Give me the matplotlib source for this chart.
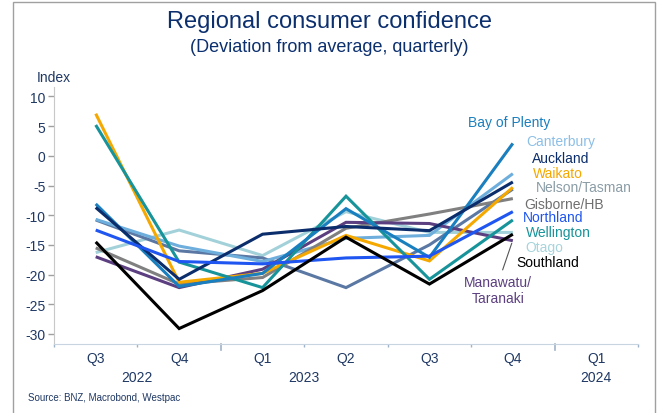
import matplotlib
matplotlib.use("Agg")
import matplotlib.pyplot as plt
from matplotlib.patches import Rectangle
from matplotlib.transforms import blended_transform_factory

plt.rcParams['font.family'] = ['Liberation Sans', 'DejaVu Sans']
plt.rcParams['axes.unicode_minus'] = False

quarters = ["Q3", "Q4", "Q1", "Q2", "Q3", "Q4", "Q1"]
years = ["2022", "2023", "2024"]
year_pos = [0.5, 2.5, 6.0]

auckland = [-8.7, -20.8, -13.2, -11.9, -12.6, -4.4]
bay_of_plenty = [-8.1, -22.0, -19.8, -8.9, -17.1, 2.1]
canterbury = [-10.7, -15.2, -17.8, -13.9, -13.4, -3.0]
waikato = [7.1, -21.3, -19.8, -13.4, -17.7, -5.3]
nelson_tasman = [-10.8, -16.0, -17.2, -22.2, -15.0, -5.6]
gisborne_hb = [-15.5, -21.6, -20.5, -12.2, -9.8, -7.2]
northland = [-12.5, -17.8, -18.2, -17.2, -16.9, -9.4]
wellington = [5.2, -17.9, -22.2, -6.8, -20.8, -10.8]
otago = [-16.3, -12.5, -16.8, -9.4, -12.9, -12.9]
southland = [-14.5, -29.1, -22.7, -13.7, -21.6, -13.2]
manawatu_taranaki = [-17.0, -22.2, -19.1, -11.2, -11.4, -14.3]

series = [
    ("Otago", otago, '#a3d1da'),
    ("Nelson/Tasman", nelson_tasman, '#5a78a3'),
    ("Canterbury", canterbury, '#6eaedc'),
    ("Gisborne/HB", gisborne_hb, '#808080'),
    ("Manawatu/\nTaranaki", manawatu_taranaki, '#5b3f80'),
    ("Waikato", waikato, '#f5a800'),
    ("Wellington", wellington, '#17939a'),
    ("Bay of Plenty", bay_of_plenty, '#1a7fbf'),
    ("Auckland", auckland, '#0b2d6b'),
    ("Northland", northland, '#1f55f0'),
    ("Southland", southland, '#000000'),
]

fig = plt.figure(figsize=(6.59, 4.14), dpi=100)
ax = fig.add_axes([54/659, 1-345/414, (638-54)/659, (345-88)/414])

x = list(range(len(auckland)))
for name, vals, col in series:
    ax.plot(x, vals, color=col, lw=2.2, solid_capstyle='butt', solid_joinstyle='miter')

ax.set_xlim(-0.5, 6.5)
ax.set_ylim(-31.7, 11.6)
ax.set_yticks(range(-30, 11, 5))
ax.set_yticklabels([str(v) for v in range(-30, 11, 5)])

ax.set_xticks(range(7))
ax.set_xticklabels(quarters)
ax.tick_params(axis='x', which='major', length=0, pad=5, labelsize=10, labelcolor='#1f3864')
ax.set_xticks([-0.5, 0.5, 2.5, 3.5, 4.5, 6.5], minor=True)
ax.tick_params(axis='x', which='minor', length=2.5, color='#9fb3c8', width=1)
ax.tick_params(axis='y', length=4, color='#a0a0a0', width=1, labelsize=10, labelcolor='#1f3864', pad=2)

# year boundary ticks (longer)
for xb in [1.5, 5.5]:
    ax.plot([xb, xb], [0, -0.022], transform=blended_transform_factory(ax.transData, ax.transAxes),
            color='#9fb3c8', lw=1.2, clip_on=False)

for s in ['top', 'right']:
    ax.spines[s].set_visible(False)
ax.spines['left'].set_color('#c8c8c8')
ax.spines['bottom'].set_color('#c8d4e0')

trans = blended_transform_factory(ax.transData, ax.transAxes)
for yr, xp in zip(years, year_pos):
    ax.text(xp, -0.128, yr, transform=trans, ha='center', va='center', fontsize=10, color='#1f3864')

# labels
lab = dict(fontsize=10, va='center')
ax.text(4.954, 5.62, "Bay of Plenty", color='#1a7fbf', ha='center', **lab)
ax.text(5.157, 2.53, "Canterbury", color='#8cbfe6', ha='left', **lab)
ax.text(5.229, -0.39, "Auckland", color='#0b2d6b', ha='left', **lab)
ax.text(5.241, -2.96, "Waikato", color='#f5a800', ha='left', **lab)
ax.text(5.274, -5.32, "Nelson/Tasman", color='#8a9ca6', ha='left', **lab)
ax.text(5.134, -8.13, "Gisborne/HB", color='#6e6e6e', ha='left', **lab)
ax.text(5.118, -10.37, "Northland", color='#1f55f0', ha='left', **lab)
ax.text(5.157, -12.9, "Wellington", color='#17939a', ha='left', **lab)
ax.text(5.154, -15.42, "Otago", color='#a8d4dc', ha='left', **lab)
ax.text(5.046, -17.95, "Southland", color='#000000', ha='left', zorder=5,
        bbox=dict(facecolor='white', edgecolor='none', pad=0.5), **lab)
ax.text(4.822, -22.6, "Manawatu/\nTaranaki", color='#5b3f80', ha='center', linespacing=1.25, **lab)
ax.plot([4.878, 4.986], [-19.19, -14.75], color='#555555', lw=0.8)

fig.text(0.5, 1-22/414, "Regional consumer confidence", ha='center', va='center', fontsize=17, color='#0c2f6e')
fig.text(0.5, 1-48/414, "(Deviation from average, quarterly)", ha='center', va='center', fontsize=13, color='#0c2f6e')
fig.text(37/659, 1-78/414, "Index", ha='left', va='center', fontsize=10, color='#1f3864')
fig.text(28/659, 1-398/414, "Source: BNZ, Macrobond, Westpac", ha='left', va='center', fontsize=7, color='#1f3864')

fig.patches.append(Rectangle((13/659, -0.05), (655-13)/659, 1.05-3/414, transform=fig.transFigure,
                             fill=False, edgecolor='#a0a0a0', lw=1))

fig.savefig("out.png", dpi=100)
